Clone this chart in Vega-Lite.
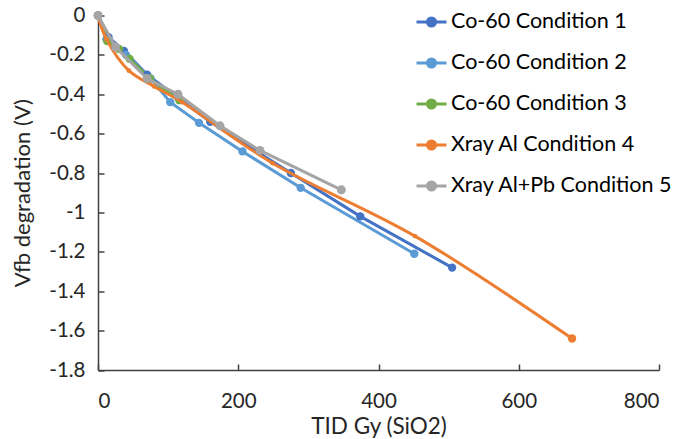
{
  "$schema": "https://vega.github.io/schema/vega-lite/v6.json",
  "width": 561,
  "height": 354.5,
  "autosize": "none",
  "padding": {"left": 98, "top": 15.5, "right": 21, "bottom": 69},
  "config": {"view": {"stroke": null}, "font": "Lato", "background": "white"},
  "data": {
    "values": [
      {"s": "Co-60 Condition 1", "x": 0, "y": 0},
      {"s": "Co-60 Condition 1", "x": 15, "y": -0.11},
      {"s": "Co-60 Condition 1", "x": 37, "y": -0.18},
      {"s": "Co-60 Condition 1", "x": 70, "y": -0.3},
      {"s": "Co-60 Condition 1", "x": 115, "y": -0.42},
      {"s": "Co-60 Condition 1", "x": 160, "y": -0.54},
      {"s": "Co-60 Condition 1", "x": 275, "y": -0.8},
      {"s": "Co-60 Condition 1", "x": 374, "y": -1.02},
      {"s": "Co-60 Condition 1", "x": 505, "y": -1.28},
      {"s": "Co-60 Condition 2", "x": 0, "y": 0},
      {"s": "Co-60 Condition 2", "x": 12, "y": -0.12},
      {"s": "Co-60 Condition 2", "x": 40, "y": -0.2},
      {"s": "Co-60 Condition 2", "x": 75, "y": -0.32},
      {"s": "Co-60 Condition 2", "x": 103, "y": -0.44},
      {"s": "Co-60 Condition 2", "x": 144, "y": -0.545},
      {"s": "Co-60 Condition 2", "x": 206, "y": -0.69},
      {"s": "Co-60 Condition 2", "x": 289, "y": -0.875},
      {"s": "Co-60 Condition 2", "x": 451, "y": -1.21},
      {"s": "Co-60 Condition 3", "x": 0, "y": 0},
      {"s": "Co-60 Condition 3", "x": 13, "y": -0.13},
      {"s": "Co-60 Condition 3", "x": 30, "y": -0.17},
      {"s": "Co-60 Condition 3", "x": 45, "y": -0.22},
      {"s": "Co-60 Condition 3", "x": 74, "y": -0.32},
      {"s": "Co-60 Condition 3", "x": 116, "y": -0.43},
      {"s": "Xray Al Condition 4", "x": 0, "y": 0},
      {"s": "Xray Al Condition 4", "x": 12, "y": -0.12},
      {"s": "Xray Al Condition 4", "x": 44, "y": -0.28},
      {"s": "Xray Al Condition 4", "x": 80, "y": -0.36},
      {"s": "Xray Al Condition 4", "x": 120, "y": -0.44},
      {"s": "Xray Al Condition 4", "x": 249, "y": -0.75},
      {"s": "Xray Al Condition 4", "x": 452, "y": -1.12},
      {"s": "Xray Al Condition 4", "x": 676, "y": -1.64},
      {"s": "Xray Al+Pb Condition 5", "x": 0, "y": 0},
      {"s": "Xray Al+Pb Condition 5", "x": 25, "y": -0.16},
      {"s": "Xray Al+Pb Condition 5", "x": 70, "y": -0.32},
      {"s": "Xray Al+Pb Condition 5", "x": 114, "y": -0.4},
      {"s": "Xray Al+Pb Condition 5", "x": 174, "y": -0.56},
      {"s": "Xray Al+Pb Condition 5", "x": 231, "y": -0.685},
      {"s": "Xray Al+Pb Condition 5", "x": 347, "y": -0.885}
    ]
  },
  "encoding": {
    "x": {
      "field": "x", "type": "quantitative",
      "scale": {"domain": [0, 800], "nice": false, "zero": false},
      "axis": {
        "values": [0, 200, 400, 600, 800],
        "title": "TID Gy (SiO2)",
        "grid": false,
        "domainColor": "#404040", "domainWidth": 1.5,
        "tickColor": "#404040", "tickWidth": 1.5, "tickSize": -6,
        "labelFontSize": 20.5, "labelColor": "#262626", "labelPadding": 27,
        "titleFontSize": 22.5, "titleFontWeight": "normal", "titleColor": "#262626", "titlePadding": 4
      }
    },
    "y": {
      "field": "y", "type": "quantitative",
      "scale": {"domain": [-1.8, 0], "nice": false, "zero": false},
      "axis": {
        "values": [0, -0.2, -0.4, -0.6, -0.8, -1, -1.2, -1.4, -1.6, -1.8],
        "labelExpr": "replace(format(datum.value, '.1~f'), '\u2212', '-')",
        "title": "Vfb degradation (V)",
        "grid": false,
        "domainColor": "#404040", "domainWidth": 1.5,
        "tickColor": "#404040", "tickWidth": 1.5, "tickSize": -6,
        "labelFontSize": 20.5, "labelColor": "#262626", "labelPadding": 19,
        "titleFontSize": 22, "titleFontWeight": "normal", "titleColor": "#262626", "titlePadding": 14
      }
    },
    "color": {
      "field": "s", "type": "nominal",
      "scale": {
        "domain": ["Co-60 Condition 1", "Co-60 Condition 2", "Co-60 Condition 3", "Xray Al Condition 4", "Xray Al+Pb Condition 5"],
        "range": ["#4472C4", "#5B9BD5", "#70AD47", "#ED7D31", "#A5A5A5"]
      },
      "legend": {
        "title": null,
        "orient": "none",
        "legendX": 317,
        "legendY": -10,
        "symbolType": "M-1,0L1,0M-0.27,0A0.27,0.27,0,1,0,0.27,0A0.27,0.27,0,1,0,-0.27,0Z",
        "symbolSize": 900,
        "symbolStrokeWidth": 3,
        "symbolOpacity": 1,
        "labelFontSize": 21.5,
        "labelColor": "#000000",
        "labelOffset": 3,
        "rowPadding": 14,
        "labelLimit": 400,
        "encode": {
          "symbols": {"update": {"fill": {"scale": "color", "field": "value"}, "stroke": {"scale": "color", "field": "value"}}}
        }
      }
    }
  },
  "layer": [
    {
      "transform": [{"filter": "datum.s === 'Co-60 Condition 1' || datum.s === 'Co-60 Condition 2' || datum.s === 'Co-60 Condition 3'"}],
      "mark": {"type": "line", "strokeWidth": 3, "point": {"filled": true, "size": 70, "opacity": 1}}
    },
    {
      "transform": [{"filter": "datum.s === 'Xray Al Condition 4'"}],
      "mark": {"type": "line", "strokeWidth": 3, "interpolate": "catmull-rom"}
    },
    {
      "transform": [{"filter": "datum.s === 'Xray Al Condition 4'"}],
      "mark": {"type": "point", "filled": true, "opacity": 1},
      "encoding": {
        "size": {"condition": {"test": "datum.x > 600", "value": 70}, "value": 22}
      }
    },
    {
      "transform": [{"filter": "datum.s === 'Xray Al+Pb Condition 5'"}],
      "mark": {"type": "line", "strokeWidth": 3, "point": {"filled": true, "size": 80, "opacity": 1}}
    }
  ]
}
